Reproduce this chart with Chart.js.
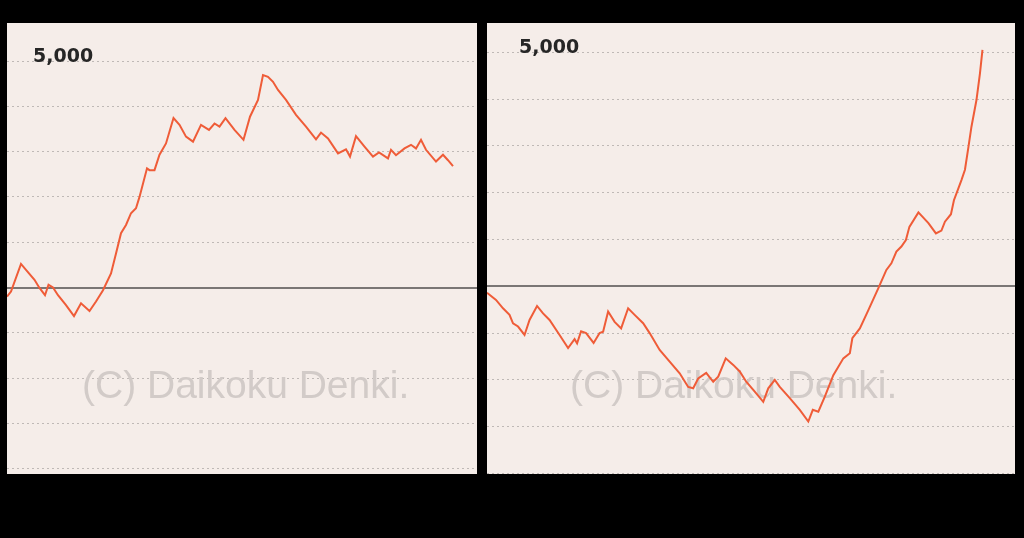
<!DOCTYPE html>
<html>
<head>
<meta charset="utf-8">
<script src="https://cdn.jsdelivr.net/npm/chart.js@4"></script>
<style>
  html, body { margin: 0; padding: 0; background: #000; width: 1024px; height: 538px; overflow: hidden; }
  .panel { position: absolute; top: 23px; height: 451px; background: #f5ede9; }
  #p1 { left: 7px; width: 470px; }
  #p2 { left: 487px; width: 528px; }
  canvas { display: block; }
</style>
</head>
<body>
<div class="panel" id="p1"><canvas id="c1" width="470" height="451"></canvas></div>
<div class="panel" id="p2"><canvas id="c2" width="528" height="451"></canvas></div>
<script>
// ---- data (games played, difference in medals) ----
const leftGames = [0,80,280,380,550,650,760,830,920,1020,1180,1340,1480,1650,1780,1920,2080,2180,2280,2380,2480,2580,2650,2800,2850,2950,3050,3180,3330,3450,3580,3720,3880,4040,4150,4250,4370,4550,4730,4860,5020,5120,5220,5320,5420,5580,5780,5980,6180,6280,6420,6620,6780,6860,6980,7150,7320,7440,7620,7680,7780,7950,8080,8180,8280,8380,8580,8720,8820,8920];
const leftValues = [-200,-90,520,390,170,-10,-170,60,0,-170,-390,-630,-350,-520,-310,-60,310,750,1200,1380,1640,1750,2000,2630,2590,2590,2930,3180,3740,3590,3330,3220,3590,3480,3620,3550,3740,3480,3260,3770,4140,4690,4650,4540,4360,4140,3810,3550,3270,3420,3290,2960,3050,2890,3340,3110,2890,2980,2850,3040,2920,3070,3150,3070,3260,3040,2780,2930,2810,2680];

const rightGames = [0,180,320,450,520,620,750,850,1000,1120,1250,1450,1620,1750,1800,1880,1980,2130,2250,2320,2420,2550,2680,2820,2950,3120,3250,3450,3650,3850,4020,4120,4220,4380,4520,4620,4770,4920,5050,5180,5350,5520,5620,5750,5850,6050,6250,6420,6510,6620,6750,6920,7120,7250,7300,7450,7620,7820,7980,8080,8180,8280,8370,8440,8620,8820,8970,9080,9150,9270,9330,9480,9550,9620,9680,9780,9850,9900];
const rightValues = [-140,-290,-470,-610,-790,-860,-1040,-720,-420,-580,-720,-1040,-1320,-1130,-1220,-960,-1000,-1210,-1000,-970,-540,-760,-900,-470,-610,-790,-1000,-1360,-1610,-1860,-2150,-2180,-1970,-1850,-2040,-1930,-1540,-1680,-1820,-2040,-2250,-2470,-2180,-2000,-2150,-2390,-2640,-2890,-2640,-2680,-2360,-1900,-1540,-1430,-1110,-900,-510,-40,350,490,740,850,990,1270,1580,1350,1130,1190,1380,1540,1840,2270,2490,2980,3410,3980,4550,5050];

const yTickValues = [-4000,-3000,-2000,-1000,0,1000,2000,3000,4000,5000];
const labeledTick = 5000;
const labeledTickText = '5,000';
const watermarkText = '(C) Daikoku Denki.';

const panels = [
  { id: 'c1', games: leftGames, values: leftValues, xMax: 9400, yMin: -4117, yMax: 5839, labelPad: 26, wmX: 75 },
  { id: 'c2', games: rightGames, values: rightValues, xMax: 10550, yMin: -4011, yMax: 5626, labelPad: 32, wmX: 83 }
];

const watermarkPlugin = {
  id: 'watermark',
  beforeDatasetsDraw(chart, args, opts) {
    const ctx = chart.ctx;
    const a = chart.chartArea;
    ctx.save();
    ctx.font = '39px "Liberation Sans", Arial, sans-serif';
    ctx.fillStyle = '#d2cbc8';
    ctx.textBaseline = 'alphabetic';
    ctx.textAlign = 'left';
    ctx.fillText(watermarkText, a.left + opts.x, a.top + 375);
    ctx.restore();
  }
};

Chart.defaults.font.family = '"DejaVu Sans", Verdana, sans-serif';
const isZero = c => !!(c.tick && Math.abs(c.tick.value) < 1e-6);

panels.forEach(p => {
  const pts = p.games.map((g, i) => ({ x: g, y: p.values[i] }));
  new Chart(document.getElementById(p.id), {
    type: 'line',
    data: {
      datasets: [{
        data: pts,
        borderColor: '#ef5c38',
        borderWidth: 2,
        pointRadius: 0,
        tension: 0,
        fill: false
      }]
    },
    options: {
      responsive: false,
      animation: false,
      events: [],
      layout: { padding: 0, autoPadding: false },
      plugins: {
        legend: { display: false },
        tooltip: { enabled: false },
        watermark: { x: p.wmX }
      },
      scales: {
        x: {
          type: 'linear',
          display: false,
          min: 0,
          max: p.xMax
        },
        y: {
          type: 'linear',
          bounds: 'data',
          min: p.yMin,
          max: p.yMax,
          afterDataLimits: s => { s.min = p.yMin; s.max = p.yMax; },
          afterBuildTicks: s => { s.ticks = yTickValues.map(v => ({ value: v })); },
          afterFit: s => { s.width = 0; s.paddingTop = 0; s.paddingBottom = 0; },
          border: {
            display: false,
            dash: c => isZero(c) ? [] : [2, 3]
          },
          grid: {
            drawTicks: false,
            color: c => isZero(c) ? '#7a7675' : '#bfb9b6',
            lineWidth: c => isZero(c) ? 2 : 1
          },
          ticks: {
            autoSkip: false,
            mirror: true,
            padding: p.labelPad,
            labelOffset: -4,
            color: '#262626',
            font: { size: 19, weight: 'bold' },
            callback: v => Math.abs(v - labeledTick) < 1e-6 ? labeledTickText : ''
          }
        }
      }
    },
    plugins: [watermarkPlugin]
  });
});
</script>
</body>
</html>
